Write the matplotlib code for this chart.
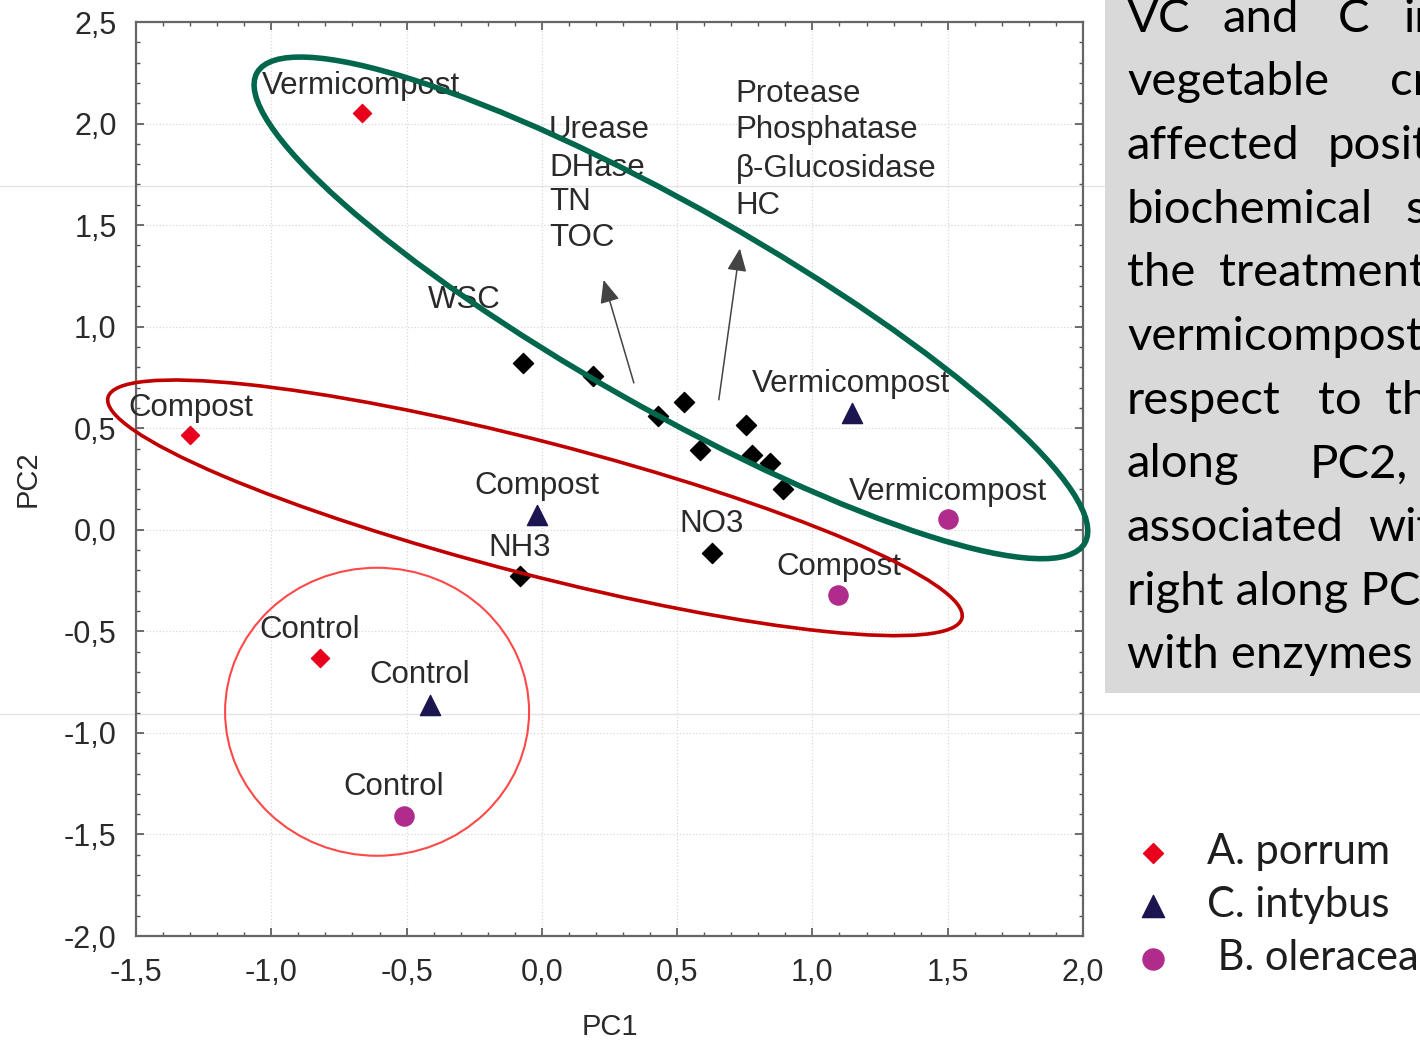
import matplotlib
matplotlib.use('Agg')
import matplotlib.pyplot as plt
from matplotlib.patches import Ellipse, Rectangle
from matplotlib.transforms import ScaledTranslation
from matplotlib.ticker import MultipleLocator, FuncFormatter
from matplotlib.lines import Line2D

# ---------------- data ----------------
species = ['A. porrum', 'C. intybus', ' B. oleracea']
treatments = ['Vermicompost', 'Compost', 'Control']

porrum_x = [-0.665, -1.30, -0.82]
porrum_y = [2.052, 0.467, -0.63]
intybus_x = [1.145, -0.018, -0.414]
intybus_y = [0.574, 0.074, -0.861]
oleracea_x = [1.50, 1.094, -0.51]
oleracea_y = [0.054, -0.32, -1.407]

# variable loadings (black diamonds)
var_x = [-0.071, 0.189, 0.429, 0.527, 0.584, 0.754, 0.776, 0.845, 0.891, 0.627, -0.082]
var_y = [0.820, 0.758, 0.561, 0.628, 0.394, 0.517, 0.369, 0.328, 0.200, -0.115, -0.230]

# arrows
arrow_x0 = [0.340, 0.654]
arrow_y0 = [0.723, 0.640]
arrow_x1 = [0.228, 0.732]
arrow_y1 = [1.230, 1.385]

# point labels (left x, centre y)
porrum_lab_x = [-1.034, -1.530, -1.045]
porrum_lab_y = [2.185, 0.600, -0.492]
intybus_lab_x = [0.776, -0.251, -0.639]
intybus_lab_y = [0.718, 0.217, -0.714]
oleracea_lab_x = [1.135, 0.865, -0.735]
oleracea_lab_y = [0.187, -0.182, -1.265]

var_labels = ['WSC', 'NO3', 'NH3']
var_lab_x = [-0.421, 0.510, -0.199]
var_lab_y = [1.132, 0.030, -0.089]

block1 = ['Urease', 'DHase', 'TN', 'TOC']
block1_x = 0.026
block1_y = [1.969, 1.782, 1.615, 1.437]
block2 = ['Protease', 'Phosphatase', 'β-Glucosidase', 'HC']
block2_x = 0.717
block2_y = [2.146, 1.969, 1.777, 1.594]

xticks = [-1.5, -1.0, -0.5, 0.0, 0.5, 1.0, 1.5, 2.0]
yticks = [-2.0, -1.5, -1.0, -0.5, 0.0, 0.5, 1.0, 1.5, 2.0, 2.5]

# side text (words, left pixel x) per line
side_lines = [
    [('VC', 1127), ('and', 1222), ('C', 1338), ('in', 1403)],
    [('vegetable', 1127), ('crops', 1390)],
    [('affected', 1127), ('positively', 1328)],
    [('biochemical', 1127), ('soil', 1405)],
    [('the', 1127), ('treatments', 1219)],
    [('vermicompost', 1127)],
    [('respect', 1127), ('to', 1318), ('the', 1385)],
    [('along', 1127), ('PC2,', 1310)],
    [('associated', 1127), ('with', 1368)],
    [('right along PC1', 1127)],
    [('with enzymes', 1127)],
]

# ---------------- colours ----------------
c_red = '#e8001c'
c_navy = '#1c1650'
c_mag = '#b02c8c'
c_green = '#00664c'
c_dred = '#c00000'
c_circ = '#ff4848'
c_text = '#2a2a2a'

W, H = 1420, 1041
fig = plt.figure(figsize=(W / 100, H / 100), dpi=100)
fig.patch.set_facecolor('white')

# faint screenshot lines
fig.add_artist(Line2D([0, 1105 / W], [1 - 186 / H] * 2, color='#e4e4e4', lw=1, transform=fig.transFigure, zorder=0))
fig.add_artist(Line2D([0, 1], [1 - 714 / H] * 2, color='#e4e4e4', lw=1, transform=fig.transFigure, zorder=0))

ax = fig.add_axes([136 / W, 1 - 936 / H, (1083 - 136) / W, (936 - 22) / H])
ax.set_facecolor('none')
ax.set_xlim(-1.5, 2.0)
ax.set_ylim(-2.0, 2.5)

tfont = dict(family='Liberation Sans', color=c_text)
fmt = FuncFormatter(lambda v, p: f'{v:.1f}'.replace('.', ','))
ax.set_xticks(xticks)
ax.set_yticks(yticks)
ax.xaxis.set_major_formatter(fmt)
ax.yaxis.set_major_formatter(fmt)
ax.xaxis.set_minor_locator(MultipleLocator(0.1))
ax.yaxis.set_minor_locator(MultipleLocator(0.1))
ax.tick_params(which='both', direction='in', top=True, right=True, colors='#555555')
ax.tick_params(which='major', length=6, width=1.2, labelsize=22, labelcolor=c_text)
ax.tick_params(axis='x', which='major', pad=16)
ax.tick_params(axis='y', which='major', pad=14)
ax.tick_params(which='minor', length=3, width=1.0)
for lab in ax.get_xticklabels() + ax.get_yticklabels():
    lab.set_family('Liberation Sans')
for s in ax.spines.values():
    s.set_color('#666666')
    s.set_linewidth(1.6)
ax.grid(True, which='major', linestyle=':', color='#d8d8d8', lw=0.9)
ax.set_axisbelow(True)

ax.set_xlabel('PC1', fontsize=21, labelpad=18, **tfont)
ax.set_ylabel('PC2', fontsize=21, labelpad=16, **tfont)

# points
sc1 = ax.scatter(porrum_x, porrum_y, marker='D', s=85, color=c_red, zorder=3, label=species[0])
sc2 = ax.scatter(intybus_x, intybus_y, marker='^', s=210, color=c_navy, zorder=3, label=species[1])
sc3 = ax.scatter(oleracea_x, oleracea_y, marker='o', s=190, color=c_mag, zorder=3, label=species[2])
ax.scatter(var_x, var_y, marker='D', s=105, color='black', zorder=3)

# arrows
for x0, y0, x1, y1 in zip(arrow_x0, arrow_y0, arrow_x1, arrow_y1):
    ax.annotate('', xy=(x1, y1), xytext=(x0, y0),
                arrowprops=dict(arrowstyle='-|>,head_length=0.7,head_width=0.3',
                                color='#444444', lw=1.1, shrinkA=0, shrinkB=0,
                                mutation_scale=20), zorder=2)

# labels
LFS = 22.5
for xs, ys in [(porrum_lab_x, porrum_lab_y), (intybus_lab_x, intybus_lab_y), (oleracea_lab_x, oleracea_lab_y)]:
    for t, x, y in zip(treatments, xs, ys):
        ax.text(x, y, t, fontsize=LFS, ha='left', va='center', zorder=4, clip_on=False, **tfont)
for t, x, y in zip(var_labels, var_lab_x, var_lab_y):
    ax.text(x, y, t, fontsize=LFS, ha='left', va='center', zorder=4, **tfont)
for t, y in zip(block1, block1_y):
    ax.text(block1_x, y, t, fontsize=LFS, ha='left', va='center', zorder=4, **tfont)
for t, y in zip(block2, block2_y):
    ax.text(block2_x, y, t, fontsize=LFS, ha='left', va='center', zorder=4, **tfont)

# ellipses (sizes in inches, centres in data coords)
def add_ell(cx, cy, w, h, ang, color, lw):
    tr = fig.dpi_scale_trans + ScaledTranslation(cx, cy, ax.transData)
    e = Ellipse((0, 0), w, h, angle=ang, transform=tr, fill=False, edgecolor=color,
                lw=lw, zorder=5, clip_on=False)
    ax.add_artist(e)

add_ell(0.477, 1.0925, 9.52, 2.01, -29.6, c_green, 4.0)
add_ell(-0.0255, 0.108, 8.82, 1.33, -14.5, c_dred, 2.6)
add_ell(-0.609, -0.896, 3.04, 2.88, 0, c_circ, 1.5)

# grey side box
fig.add_artist(Rectangle((1105 / W, 1 - 693 / H), 1 - 1105 / W, 693 / H,
                         transform=fig.transFigure, facecolor='#d9d9d9', edgecolor='none', zorder=1))
base0, step = 31.5, 63.7
for i, line in enumerate(side_lines):
    yb = base0 + i * step
    for word, px in line:
        fig.text(px / W, 1 - yb / H, word, fontsize=34, family='Lato', color='black',
                 ha='left', va='baseline', zorder=2)

# legend
leg = fig.legend(handles=[sc1, sc2, sc3], labels=species, loc='upper left',
                 bbox_to_anchor=(1132 / W, 1 - 833 / H), frameon=False,
                 prop={'family': 'Lato', 'size': 30}, handlelength=1.0,
                 handletextpad=0.8, labelspacing=0.36, borderpad=0, borderaxespad=0,
                 markerscale=1.1)
for t in leg.get_texts():
    t.set_color('#1e1e1e')

fig.savefig('out.png', dpi=100)
